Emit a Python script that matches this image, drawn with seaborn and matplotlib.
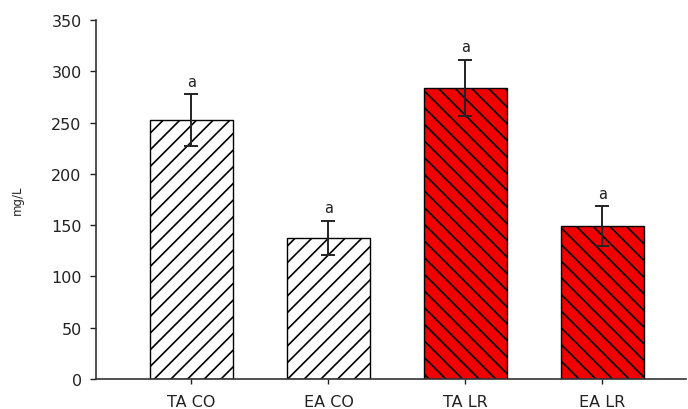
import matplotlib
matplotlib.use("Agg")
import matplotlib.pyplot as plt
import seaborn as sns
import pandas as pd

# Group means and standard errors (mg/L)
categories = ["TA CO", "EA CO", "TA LR", "EA LR"]
means = [252.5, 137.5, 283.5, 149.0]
errors = [25.0, 16.5, 27.5, 19.5]
letters = ["a", "a", "a", "a"]
fills = ["white", "white", "#f00000", "#f00000"]
hatches = ["//", "//", "\\\\", "\\\\"]

sns.set_style("ticks")
plt.rcParams["font.family"] = ["DejaVu Sans"]
plt.rcParams["hatch.linewidth"] = 1.2
plt.rcParams["hatch.color"] = "black"

df = pd.DataFrame({"group": categories, "value": means})

fig = plt.figure(figsize=(6.88, 4.10), dpi=100)
ax = fig.add_axes([96 / 688, 30 / 410, (686 - 96) / 688, (380 - 21) / 410])

sns.barplot(data=df, x="group", y="value", hue="group", palette=fills,
            order=categories, hue_order=categories, legend=False, saturation=1,
            width=0.6, edgecolor="black", linewidth=1.0, errorbar=None, ax=ax)

for patch, h in zip(ax.patches, hatches):
    patch.set_hatch(h)
    patch.set_edgecolor("black")

xs = list(range(len(categories)))
ax.errorbar(xs, means, yerr=errors, fmt="none", ecolor="#222222",
            elinewidth=1.4, capsize=4.8, capthick=1.4, zorder=5)

for x, m, e, t in zip(xs, means, errors, letters):
    ax.annotate(t, (x, m + e), xytext=(0, 4), textcoords="offset points",
                ha="center", va="bottom", fontsize=10.5, color="#222222")

ax.set_xlim(-0.697, 3.61)
ax.set_ylim(0, 350)
ax.set_yticks(range(0, 351, 50))
ax.set_xlabel("")
ax.set_ylabel("mg/L", fontsize=8.5, labelpad=20)
ax.tick_params(axis="both", labelsize=11.5, width=1.0, colors="#222222")
ax.tick_params(axis="y", length=4.3, pad=6)
ax.tick_params(axis="x", length=3.6, pad=7)
for s in ["top", "right"]:
    ax.spines[s].set_visible(False)
for s in ["left", "bottom"]:
    ax.spines[s].set_linewidth(1.2)
    ax.spines[s].set_color("#333333")

fig.savefig("out.png", dpi=100)
